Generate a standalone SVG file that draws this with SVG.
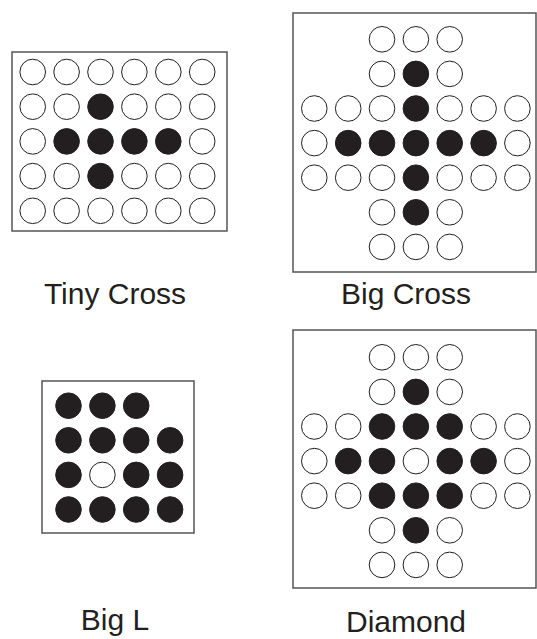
<svg xmlns="http://www.w3.org/2000/svg" width="537" height="639" viewBox="0 0 537 639">
<style>
.box{fill:#fff;stroke:#555;stroke-width:1.5}
.o{fill:#fff;stroke:#231f20;stroke-width:1}
.f{fill:#231f20;stroke:#231f20;stroke-width:1}
.lbl{font-family:"Liberation Sans",Arial,sans-serif;font-size:30px;fill:#231f20;text-anchor:middle}
</style>
<rect width="537" height="639" fill="#fff"/>
<g id="tiny-cross">
<rect class="box" x="12" y="52" width="215" height="179"/>
<circle class="o" cx="32.7" cy="72" r="12.8"/><circle class="o" cx="66.6" cy="72" r="12.8"/><circle class="o" cx="100.5" cy="72" r="12.8"/><circle class="o" cx="134.4" cy="72" r="12.8"/><circle class="o" cx="168.3" cy="72" r="12.8"/><circle class="o" cx="202.2" cy="72" r="12.8"/>
<circle class="o" cx="32.7" cy="106.7" r="12.8"/><circle class="o" cx="66.6" cy="106.7" r="12.8"/><circle class="f" cx="100.5" cy="106.7" r="12.8"/><circle class="o" cx="134.4" cy="106.7" r="12.8"/><circle class="o" cx="168.3" cy="106.7" r="12.8"/><circle class="o" cx="202.2" cy="106.7" r="12.8"/>
<circle class="o" cx="32.7" cy="141.4" r="12.8"/><circle class="f" cx="66.6" cy="141.4" r="12.8"/><circle class="f" cx="100.5" cy="141.4" r="12.8"/><circle class="f" cx="134.4" cy="141.4" r="12.8"/><circle class="f" cx="168.3" cy="141.4" r="12.8"/><circle class="o" cx="202.2" cy="141.4" r="12.8"/>
<circle class="o" cx="32.7" cy="176.1" r="12.8"/><circle class="o" cx="66.6" cy="176.1" r="12.8"/><circle class="f" cx="100.5" cy="176.1" r="12.8"/><circle class="o" cx="134.4" cy="176.1" r="12.8"/><circle class="o" cx="168.3" cy="176.1" r="12.8"/><circle class="o" cx="202.2" cy="176.1" r="12.8"/>
<circle class="o" cx="32.7" cy="210.8" r="12.8"/><circle class="o" cx="66.6" cy="210.8" r="12.8"/><circle class="o" cx="100.5" cy="210.8" r="12.8"/><circle class="o" cx="134.4" cy="210.8" r="12.8"/><circle class="o" cx="168.3" cy="210.8" r="12.8"/><circle class="o" cx="202.2" cy="210.8" r="12.8"/>
<text class="lbl" x="115" y="304">Tiny Cross</text>
</g>
<g id="big-cross">
<rect class="box" x="293" y="13" width="243" height="259"/>
<circle class="o" cx="382" cy="39.3" r="12.8"/><circle class="o" cx="415.9" cy="39.3" r="12.8"/><circle class="o" cx="449.7" cy="39.3" r="12.8"/>
<circle class="o" cx="382" cy="73.9" r="12.8"/><circle class="f" cx="415.9" cy="73.9" r="12.8"/><circle class="o" cx="449.7" cy="73.9" r="12.8"/>
<circle class="o" cx="314.3" cy="108.5" r="12.8"/><circle class="o" cx="348.2" cy="108.5" r="12.8"/><circle class="o" cx="382" cy="108.5" r="12.8"/><circle class="f" cx="415.9" cy="108.5" r="12.8"/><circle class="o" cx="449.7" cy="108.5" r="12.8"/><circle class="o" cx="483.6" cy="108.5" r="12.8"/><circle class="o" cx="517.4" cy="108.5" r="12.8"/>
<circle class="o" cx="314.3" cy="143.1" r="12.8"/><circle class="f" cx="348.2" cy="143.1" r="12.8"/><circle class="f" cx="382" cy="143.1" r="12.8"/><circle class="f" cx="415.9" cy="143.1" r="12.8"/><circle class="f" cx="449.7" cy="143.1" r="12.8"/><circle class="f" cx="483.6" cy="143.1" r="12.8"/><circle class="o" cx="517.4" cy="143.1" r="12.8"/>
<circle class="o" cx="314.3" cy="177.7" r="12.8"/><circle class="o" cx="348.2" cy="177.7" r="12.8"/><circle class="o" cx="382" cy="177.7" r="12.8"/><circle class="f" cx="415.9" cy="177.7" r="12.8"/><circle class="o" cx="449.7" cy="177.7" r="12.8"/><circle class="o" cx="483.6" cy="177.7" r="12.8"/><circle class="o" cx="517.4" cy="177.7" r="12.8"/>
<circle class="o" cx="382" cy="212.3" r="12.8"/><circle class="f" cx="415.9" cy="212.3" r="12.8"/><circle class="o" cx="449.7" cy="212.3" r="12.8"/>
<circle class="o" cx="382" cy="246.9" r="12.8"/><circle class="o" cx="415.9" cy="246.9" r="12.8"/><circle class="o" cx="449.7" cy="246.9" r="12.8"/>
<text class="lbl" x="406" y="304">Big Cross</text>
</g>
<g id="big-l">
<rect class="box" x="42" y="381" width="152" height="152"/>
<circle class="f" cx="68.5" cy="405.7" r="12.8"/><circle class="f" cx="102.4" cy="405.7" r="12.8"/><circle class="f" cx="136.2" cy="405.7" r="12.8"/>
<circle class="f" cx="68.5" cy="440.3" r="12.8"/><circle class="f" cx="102.4" cy="440.3" r="12.8"/><circle class="f" cx="136.2" cy="440.3" r="12.8"/><circle class="f" cx="170.1" cy="440.3" r="12.8"/>
<circle class="f" cx="68.5" cy="474.9" r="12.8"/><circle class="o" cx="102.4" cy="474.9" r="12.8"/><circle class="f" cx="136.2" cy="474.9" r="12.8"/><circle class="f" cx="170.1" cy="474.9" r="12.8"/>
<circle class="f" cx="68.5" cy="509.5" r="12.8"/><circle class="f" cx="102.4" cy="509.5" r="12.8"/><circle class="f" cx="136.2" cy="509.5" r="12.8"/><circle class="f" cx="170.1" cy="509.5" r="12.8"/>
<text class="lbl" x="115" y="630">Big L</text>
</g>
<g id="diamond">
<rect class="box" x="293" y="330" width="243" height="258"/>
<circle class="o" cx="382" cy="357.3" r="12.8"/><circle class="o" cx="415.9" cy="357.3" r="12.8"/><circle class="o" cx="449.7" cy="357.3" r="12.8"/>
<circle class="o" cx="382" cy="391.9" r="12.8"/><circle class="f" cx="415.9" cy="391.9" r="12.8"/><circle class="o" cx="449.7" cy="391.9" r="12.8"/>
<circle class="o" cx="314.3" cy="426.5" r="12.8"/><circle class="o" cx="348.2" cy="426.5" r="12.8"/><circle class="f" cx="382" cy="426.5" r="12.8"/><circle class="f" cx="415.9" cy="426.5" r="12.8"/><circle class="f" cx="449.7" cy="426.5" r="12.8"/><circle class="o" cx="483.6" cy="426.5" r="12.8"/><circle class="o" cx="517.4" cy="426.5" r="12.8"/>
<circle class="o" cx="314.3" cy="461.1" r="12.8"/><circle class="f" cx="348.2" cy="461.1" r="12.8"/><circle class="f" cx="382" cy="461.1" r="12.8"/><circle class="o" cx="415.9" cy="461.1" r="12.8"/><circle class="f" cx="449.7" cy="461.1" r="12.8"/><circle class="f" cx="483.6" cy="461.1" r="12.8"/><circle class="o" cx="517.4" cy="461.1" r="12.8"/>
<circle class="o" cx="314.3" cy="495.7" r="12.8"/><circle class="o" cx="348.2" cy="495.7" r="12.8"/><circle class="f" cx="382" cy="495.7" r="12.8"/><circle class="f" cx="415.9" cy="495.7" r="12.8"/><circle class="f" cx="449.7" cy="495.7" r="12.8"/><circle class="o" cx="483.6" cy="495.7" r="12.8"/><circle class="o" cx="517.4" cy="495.7" r="12.8"/>
<circle class="o" cx="382" cy="530.3" r="12.8"/><circle class="f" cx="415.9" cy="530.3" r="12.8"/><circle class="o" cx="449.7" cy="530.3" r="12.8"/>
<circle class="o" cx="382" cy="564.9" r="12.8"/><circle class="o" cx="415.9" cy="564.9" r="12.8"/><circle class="o" cx="449.7" cy="564.9" r="12.8"/>
<text class="lbl" x="406" y="632">Diamond</text>
</g>
</svg>
